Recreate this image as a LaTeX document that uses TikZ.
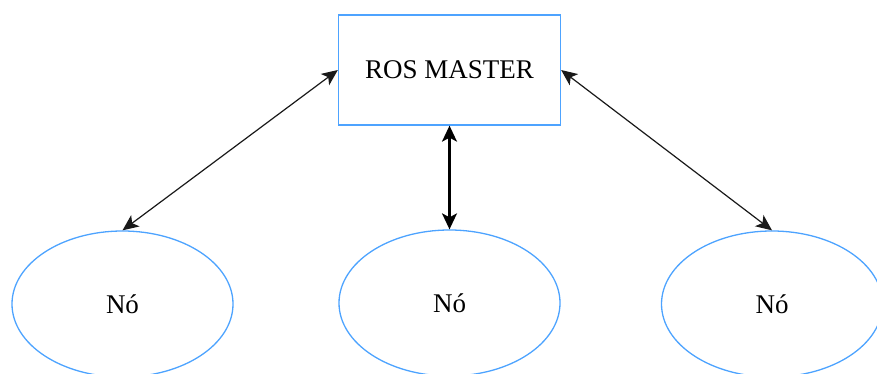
\documentclass[tikz,border=0pt]{standalone}
\usepackage{fontspec}
\setmainfont{Liberation Serif}
\usetikzlibrary{shapes.geometric,arrows.meta}
\definecolor{edgeblue}{RGB}{77,163,255}
\definecolor{linkgray}{RGB}{25,25,25}
\tikzset{
  masterbox/.style={draw=edgeblue, line width=1.3pt, minimum width=222pt, minimum height=110pt, inner sep=0pt, font=\fontsize{27}{30}\selectfont},
  nodeoval/.style={ellipse, draw=edgeblue, line width=1.3pt, minimum width=221pt, minimum height=146pt, inner sep=0pt, font=\fontsize{27}{30}\selectfont},
  link/.style={draw=linkgray, line width=1.2pt, {Stealth[length=16pt,width=14pt,inset=4pt]}-{Stealth[length=16pt,width=14pt,inset=4pt]}},
  thicklink/.style={draw=black, line width=2.2pt, {Stealth[length=16pt,width=15pt,inset=4pt]}-{Stealth[length=16pt,width=15pt,inset=4pt]}}
}
\begin{document}
\begin{tikzpicture}[x=1pt,y=-1pt]
  \useasboundingbox (0,0) rectangle (877,374);
  \node[masterbox] (master) at (449.5,70) {ROS MASTER};
  \node[nodeoval] (left) at (122.5,304) {Nó};
  \node[nodeoval] (mid) at (449.5,303) {Nó};
  \node[nodeoval] (right) at (772,304) {Nó};
  \draw[link] (master.west) -- (left.north);
  \draw[link] (master.east) -- (right.north);
  \draw[thicklink] (master.south) -- (mid.north);
\end{tikzpicture}
\end{document}
